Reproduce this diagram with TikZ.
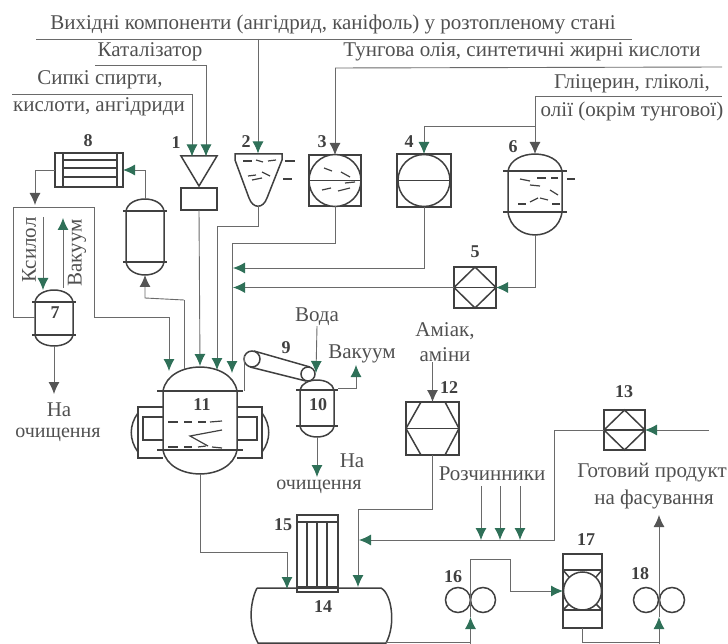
\documentclass[tikz,border=0pt]{standalone}
\usepackage{fontspec}
\setmainfont{Liberation Serif}
\usetikzlibrary{arrows.meta,calc}
\definecolor{linec}{HTML}{6A6A6A}
\definecolor{eqc}{HTML}{404040}
\definecolor{txtc}{HTML}{505050}
\definecolor{tipg}{HTML}{2F7058}
\definecolor{tipd}{HTML}{555555}
\tikzset{
  conn/.style={draw=linec,line width=0.9pt},
  flow/.style={conn,-{Latex[length=12pt,width=11pt,color=tipg]}},
  flowd/.style={conn,-{Latex[length=12pt,width=11pt,color=tipd]}},
  eq/.style={draw=eqc,line width=1.5pt},
  unit/.style={eq,rectangle,inner sep=0pt,outer sep=0pt},
  ghost/.style={rectangle,inner sep=0pt,outer sep=0pt},
  lbl/.style={text=txtc,inner sep=0pt,font=\fontsize{21}{23}\selectfont},
  small/.style={text=txtc,inner sep=0pt,font=\fontsize{20}{22}\selectfont},
  num/.style={text=eqc,inner sep=0pt,font=\fontsize{18}{20}\selectfont\bfseries},
  drop/.style={draw=eqc,line width=1.2pt}
}
% name, x, top, upper flange, lower flange, bottom, half width, flange half width
\newcommand{\vessel}[8]{
  \node[ghost,minimum width=2*#7,minimum height=#6-#3] (#1) at (#2,{(#3+#6)/2}) {};
  \draw[eq] ({#2-#7},#4) .. controls ({#2-0.85*#7},{#3-0.33*(#4-#3)}) and ({#2+0.85*#7},{#3-0.33*(#4-#3)}) .. ({#2+#7},#4)
    -- ({#2+#7},#5) .. controls ({#2+0.85*#7},{#6+0.33*(#6-#5)}) and ({#2-0.85*#7},{#6+0.33*(#6-#5)}) .. ({#2-#7},#5) -- cycle;
  \draw[eq] ({#2-#8},#4) -- ({#2+#8},#4);
  \draw[eq] ({#2-#8},#5) -- ({#2+#8},#5);
}
\begin{document}
\begin{tikzpicture}[x=1pt,y=-1pt]
  \useasboundingbox (0,0) rectangle (728,644);
  % texts
  \node[lbl] (tsource) at (333,24) {Вихідні компоненти (ангідрид, каніфоль) у розтопленому стані};
  \node[lbl] (tcat) at (150,52) {Каталізатор};
  \node[lbl] (ttung) at (522,52) {Тунгова олія, синтетичні жирні кислоти};
  \node[lbl] (tdry1) at (100,80) {Сипкі спирти,};
  \node[lbl] (tdry2) at (99,107) {кислоти, ангідриди};
  \node[lbl] (tgly1) at (632,84) {Гліцерин, гліколі,};
  \node[lbl] (tgly2) at (632,111) {олії (окрім тунгової)};
  \node[lbl,rotate=90] (txyl) at (29,250) {Ксилол};
  \node[lbl,rotate=90] (tvac1) at (77,253) {Вакуум};
  \node[lbl] (tclean1a) at (59,410) {На};
  \node[small] (tclean1b) at (58,435) {очищення};
  \node[lbl] (twater) at (317,317) {Вода};
  \node[lbl] (tvac2) at (362,354) {Вакуум};
  \node[lbl] (tclean2a) at (352,461) {На};
  \node[small] (tclean2b) at (319,487) {очищення};
  \node[lbl] (tamm1) at (445,331) {Аміак,};
  \node[lbl] (tamm2) at (445,355) {аміни};
  \node[lbl] (tsolv) at (492,474) {Розчинники};
  \node[lbl] (tprod1) at (652,473) {Готовий продукт};
  \node[lbl] (tprod2) at (654,499) {на фасування};
  % numbers
  \foreach \n/\x/\y in {1/176/143,2/246/142,3/322/142,4/409/142,5/475/252,6/513/147,7/55/313,8/88/141,9/286/348,
      10/318/405,11/202/405,12/449/388,13/624/392,14/323/607,15/283/525,16/453/577,17/586/540,18/640/574}
    \node[num] (n\n) at (\x,\y) {\n};
  % apparatus
  \node[ghost,minimum width=36,minimum height=29] (u1) at (199,171) {};
  \draw[eq] (181,156) -- (217,156) -- (199,186) -- cycle;
  \node[unit,minimum width=36,minimum height=22] (u1b) at (199,199) {};
  \node[ghost,minimum width=47,minimum height=53] (u2) at (258,180) {};
  \draw[eq] (235,154) -- (282,154) -- (282,160) -- (267,198) .. controls (263,209) and (253,209) .. (249,198) -- (235,160) -- cycle;
  \node[unit,minimum width=52,minimum height=51] (u3) at (335,180.5) {};
  \node[unit,minimum width=54,minimum height=53] (u4) at (424,180.5) {};
  \node[unit,minimum width=42,minimum height=41] (u5) at (475,287.5) {};
  \vessel{u6}{535}{154}{171}{212}{235}{27}{32}
  \vessel{u7}{54}{290}{302}{335}{346}{19}{22}
  \vessel{u0}{145}{199}{211}{262}{275}{19}{22}
  \node[unit,minimum width=68,minimum height=34] (u8) at (89,170) {};
  \vessel{u10}{317}{380}{390}{426}{437}{17}{21}
  \vessel{u11}{200}{367}{391}{450}{474}{37}{43}
  \node[unit,minimum width=53,minimum height=53] (u12) at (432.5,428.5) {};
  \node[unit,minimum width=41,minimum height=40] (u13) at (624.5,430) {};
  \node[unit,minimum width=41,minimum height=77] (u15) at (317.5,553.5) {};
  \node[unit,minimum width=39,minimum height=74] (u17) at (582.5,591) {};
  \node[ghost,minimum width=53,minimum height=26] (u16) at (470.5,600) {};
  \node[ghost,minimum width=53,minimum height=26] (u18) at (659,600) {};
  % inner lines
  \foreach \u in {u3,u4} {
    \draw[eq,fill=white] (\u.center) circle (26);
    \draw[eq] (\u.west) -- (\u.east);
  }
  \foreach \u in {u5,u13} {
    \draw[eq] (\u.north) -- (\u.east) -- (\u.south) -- (\u.west) -- cycle;
    \draw[eq] (\u.west) -- (\u.east);
  }
  \draw[eq] (u12.west) -- (u12.east);
  \draw[eq] (u12.west) -- (421,402) -- (445,402) -- (u12.east) -- (445,455) -- (421,455) -- cycle;
  \foreach \y in {160,168,177}
    \draw[eq] (63,\y) -- (117,\y);
  \draw[eq] (63,153) -- (63,187);
  \draw[eq] (117,153) -- (117,187);
  \draw[eq] (297,522) -- (338,522);
  \draw[eq] (297,587) -- (338,587);
  \foreach \x in {307,317,327}
    \draw[eq] (\x,522) -- (\x,587);
  \draw[eq] (563,570) -- (602,570);
  \draw[eq] (563,610) -- (602,610);
  \draw[eq] (u17.center) circle (19);
  \foreach \xa/\ya/\xb/\yb in {563/570/569/577,602/570/596/577,563/610/569/604,602/610/596/604}
    \draw[eq] (\xa,\ya) -- (\xb,\yb);
  \foreach \s in {1,-1} {
    \draw[eq] ({200+\s*37},407) -- ({200+\s*62},407) -- ({200+\s*62},458) -- ({200+\s*37},458);
    \draw[eq] ({200+\s*37},417) -- ({200+\s*57},417) -- ({200+\s*57},440) -- ({200+\s*37},440);
    \draw[eq] ({200+\s*62},413) .. controls ({200+\s*71},425) and ({200+\s*71},440) .. ({200+\s*62},452);
  }
  \foreach \x in {458,483,646,672}
    \draw[eq] (\x,600) circle (12.5);
  % tank 14
  \node[ghost,minimum width=142,minimum height=56] (u14) at (321,616) {};
  \draw[eq] (257,588) -- (381,588) .. controls (392,594) and (396,625) .. (386,643) -- (258,643) .. controls (248,625) and (250,602) .. (257,588);
  \node[ghost,minimum width=60,minimum height=30] (u9) at (280,366) {};
  \draw[eq] (252,359) circle (8);
  \draw[eq] (308,374) circle (7);
  \draw[eq] (254,351) -- (310,367);
  \draw[eq] (250,367) -- (306,381);
  % drops
  \foreach \xa/\ya/\xb/\yb in {243/161/252/161,256/160/263/162,268/161/276/160,285/161/295/161,248/176/256/175,
      262/172/270/176,252/180/262/178,283/179/292/179,
      324/168/332/171,341/172/350/177,322/190/331/188,338/191/350/188,345/183/355/182,
      520/179/530/181,537/178/546/178,551/178/558/178,567/179/575/179,530/185/540/186,550/190/558/195,
      530/202/538/198,540/198/548/200,552/204/560/204,518/204/526/204,
      168/422/178/422,184/422/192/422,198/422/206/422,210/422/222/421,
      168/447/178/447,184/447/192/447,198/447/206/446,212/447/222/448}
    \draw[drop] (\xa,\ya) -- (\xb,\yb);
  \draw[drop] (222,430) -- (190,436) -- (208,446);
  % free ends of connectors
  \coordinate (rs1) at (36,39);
  \coordinate (rs2) at (632,39);
  \coordinate (rc1) at (95,65);
  \coordinate (rc2) at (206,65);
  \coordinate (rd1) at (12,94);
  \coordinate (rd2) at (192,94);
  \coordinate (rt1) at (335,68);
  \coordinate (rt2) at (722,67);
  \coordinate (rg1) at (535,96);
  \coordinate (rg2) at (722,96);
  \coordinate (ss) at (258,39);
  \coordinate (sq) at (424,126);
  \coordinate (a11a) at (169,371);
  \coordinate (a11b) at (184,369);
  \coordinate (a11c) at (200,366);
  \coordinate (a11d) at (217,370);
  \coordinate (a11e) at (232,373);
  % connectors
  \draw[conn] (rs1) -- (rs2);
  \draw[conn] (rc1) -- (rc2);
  \draw[conn] (rd1) -- (rd2);
  \draw[conn] (rt1) -- (rt2);
  \draw[conn] (rg1) -- (rg2);
  \draw[flow] (ss) -- (u2.north);
  \draw[flow] (rc2) -- (rc2 |- u1.north);
  \draw[flow] (rd2) -- (rd2 |- u1.north);
  \draw[flowd] (rt1) -- (u3.north);
  \draw[flowd] (rg1) -- (u6.north);
  \draw[flow] (sq) -- (u4.north);
  \draw[conn] (sq) -- (sq -| rg1);
  \draw[flow] (u1b.south) -- (a11c);
  \draw[flow] (u2.south) -- (258,226) -- (217,226) -- (a11d);
  \draw[flow] (u3.south) -- (335,243) -- (232,243) -- (a11e);
  \draw[flow] (u4.south) -- (424,268) -- (233,268);
  \draw[flow] (u6.south) -- (535,287.5) -- (u5.east);
  \draw[flow] (u5.west) -- (233,287.5);
  \draw[flowd] (u8.west) -- (35,170) -- (35,205);
  \coordinate (bx) at (13,207);
  \draw[conn] (u7.west |- 317,317) -- (13,317) -- (bx) -- (94,207) -- (94,317);
  \draw[flow] (94,317) -- (169,317) -- (a11a);
  \draw[flowd] (184,300) -- (145,298) -- (u0.south);
  \draw[conn] (a11b) -- (184,300);
  \draw[flow] (u0.north) -- (145,170) -- (u8.east);
  \draw[flow] (43,217) -- (43,290);
  \draw[flow] (63,288) -- (63,218);
  \draw[flowd] (u7.south) -- (54,394);
  % right part
  \draw[flow] (twater.south) -- (316,373);
  \draw[flow] (u10.south) -- (317,477);
  \draw[flow] (338,388) -- (356,388) -- (356,365);
  \draw[conn] (244,356) -- (244,391);
  \draw[flowd] (tamm2.south -| u12.north) -- (u12.north);
  \draw[flow] (u12.south) -- (432.5,509) -- (358,509) -- (358,587);
  \coordinate (b13) at (709,430);
  \draw[flow] (b13) -- (u13.east);
  \draw[flow] (u13.west) -- (554,430) -- (554,540) -- (359,540);
  \foreach \x in {481,500,520}
    \draw[flow] (\x,486) -- (\x,540);
  \draw[flow] (u11.south) -- (200,552) -- (287,552) -- (287,589);
  \coordinate (bot16) at (470.5,644);
  \coordinate (bot18) at (659,644);
  \draw[flow] (bot16) -- (470.5,617);
  \draw[flow] (470.5,617) -- (470.5,559) -- (510,559) -- (510,591) -- (u17.west);
  \draw[conn] (386,642) -- (470.5,642);
  \draw[conn] (u17.south) -- (582.5,642) -- (659,642);
  \draw[flow] (bot18) -- (659,617);
  \draw[flowd] (659,617) -- (659,515);
\end{tikzpicture}
\end{document}
